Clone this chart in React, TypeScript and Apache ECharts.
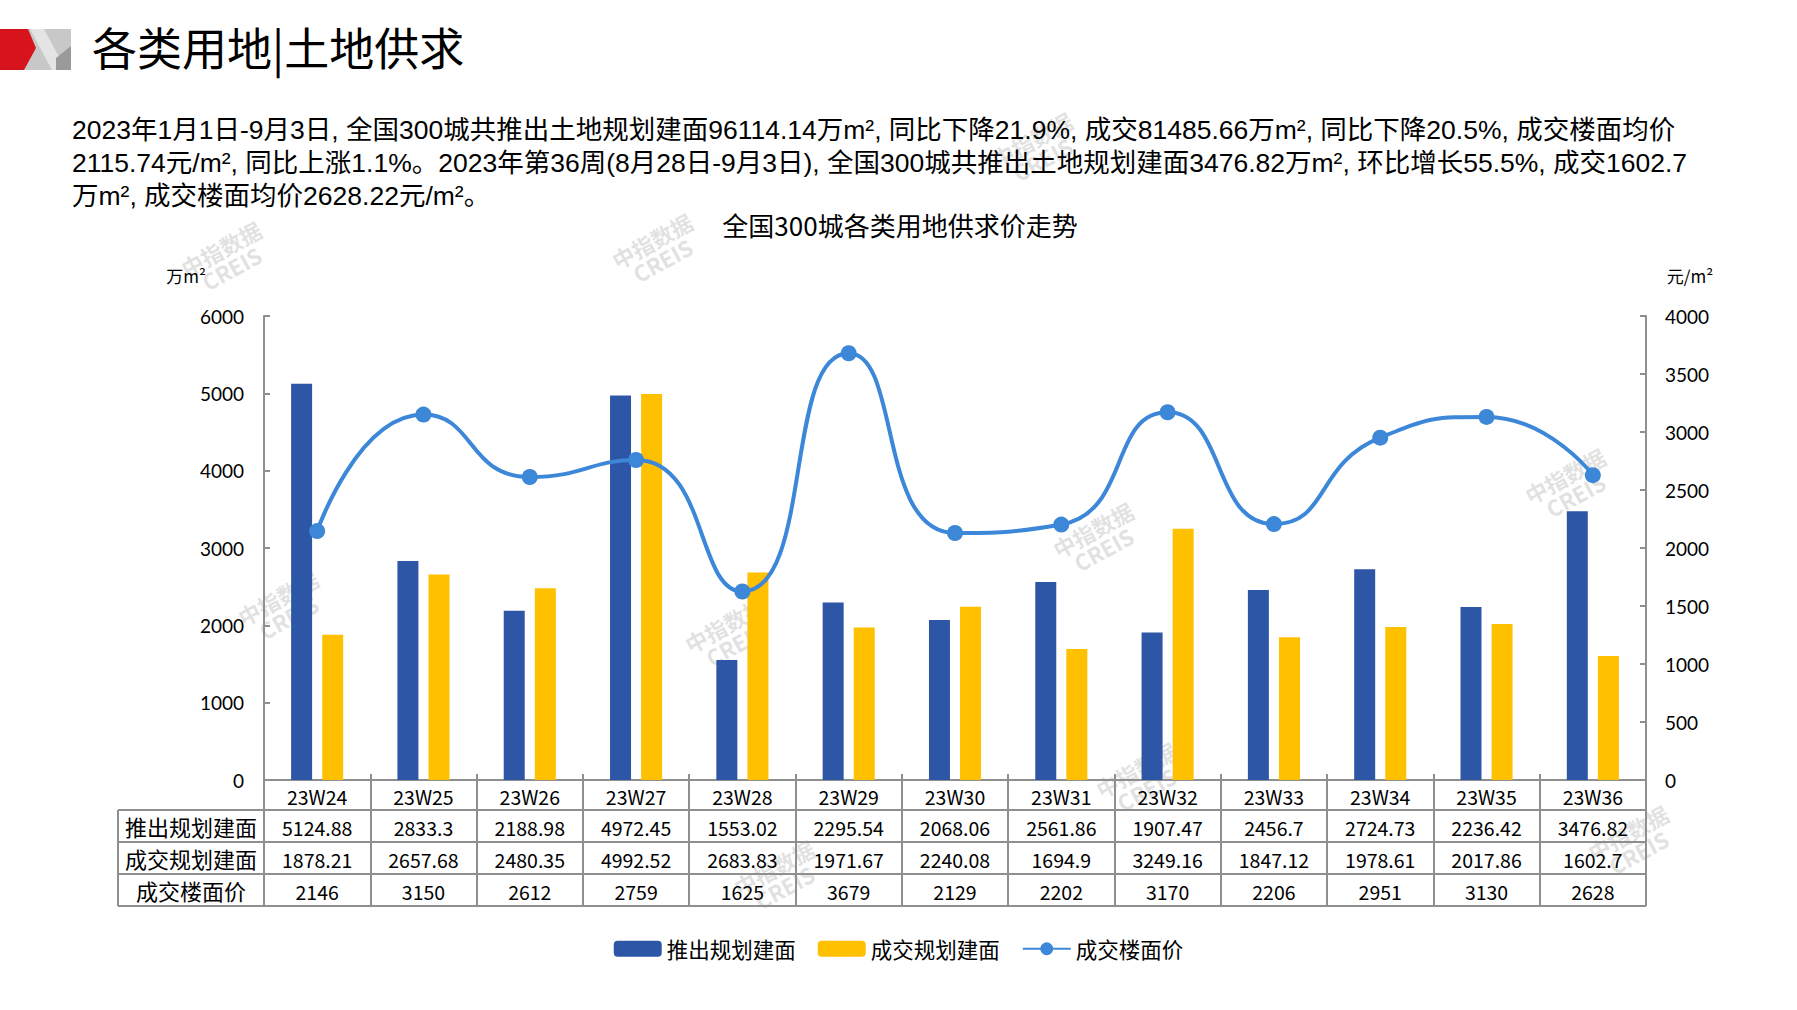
import React, { useEffect, useRef } from "react";
import * as echarts from "echarts";

const categories = ["23W24", "23W25", "23W26", "23W27", "23W28", "23W29", "23W30", "23W31", "23W32", "23W33", "23W34", "23W35", "23W36"];
const supplyArea = [5124.88, 2833.3, 2188.98, 4972.45, 1553.02, 2295.54, 2068.06, 2561.86, 1907.47, 2456.7, 2724.73, 2236.42, 3476.82];
const dealArea = [1878.21, 2657.68, 2480.35, 4992.52, 2683.83, 1971.67, 2240.08, 1694.9, 3249.16, 1847.12, 1978.61, 2017.86, 1602.7];
const dealPrice = [2146, 3150, 2612, 2759, 1625, 3679, 2129, 2202, 3170, 2206, 2951, 3130, 2628];
const seriesNames = ["推出规划建面", "成交规划建面", "成交楼面价"];

const leftAxis = { min: 0, max: 6000, interval: 1000, unit: "万m²" };
const rightAxis = { min: 0, max: 4000, interval: 500, unit: "元/m²" };

const headerTitle = "各类用地|土地供求";
const chartTitle = "全国300城各类用地供求价走势";
const paragraphLines = [
  "2023年1月1日-9月3日, 全国300城共推出土地规划建面96114.14万m², 同比下降21.9%, 成交81485.66万m², 同比下降20.5%, 成交楼面均价",
  "2115.74元/m², 同比上涨1.1%。2023年第36周(8月28日-9月3日), 全国300城共推出土地规划建面3476.82万m², 环比增长55.5%, 成交1602.7",
  "万m², 成交楼面均价2628.22元/m²。",
];
const watermarkSpots = [
  [226, 258], [657, 250], [1037, 149], [1098, 539], [283, 607],
  [730, 634], [1570, 485], [1141, 779], [779, 877], [1633, 842],
];

const BLUE = "#2E56A6";
const YELLOW = "#FFC000";
const LINE = "#3D87D8";
const GRAY = "#8f8f8f";
const FONT = "'Noto Sans CJK SC', sans-serif";
const PARAFONT = "'Liberation Sans', 'Noto Sans CJK SC', sans-serif";
const NUMFONT = "Lato, 'Noto Sans CJK SC', sans-serif";

const GRID_L = 264;
const GRID_R = 1646;
const GRID_T = 316;
const GRID_B = 780;
const ROW_Y = [780, 810, 842, 874, 906];
const TABLE_L = 118;

export default function App() {
  const ref = useRef<HTMLDivElement>(null);

  useEffect(() => {
    document.body.style.margin = "0";
    if (!ref.current) return;
    const chart = echarts.init(ref.current, null, { renderer: "svg" });

    const graphics: any[] = [];
    // logo
    graphics.push(
      { type: "polygon", shape: { points: [[26, 29], [71, 29], [71, 70], [22, 70], [34, 48]] }, style: { fill: "#c8c8c8" } },
      { type: "polygon", shape: { points: [[30, 29], [44, 29], [66, 70], [52, 70]] }, style: { fill: "#e4e4e4" } },
      { type: "polygon", shape: { points: [[71, 46], [71, 70], [56, 70], [56, 58]] }, style: { fill: "#9a9a9a" } },
      { type: "polygon", shape: { points: [[0, 29], [28, 29], [36, 48], [24, 70], [0, 70]] }, style: { fill: "#d7141b" } }
    );
    graphics.push({
      type: "text", left: 92, top: 24,
      style: { text: headerTitle, font: `45px ${FONT}`, fill: "#000" },
    });
    paragraphLines.forEach((t, i) => {
      graphics.push({
        type: "text", x: 72, y: [129.5, 162.8, 196][i],
        style: { text: t, font: `26.5px ${PARAFONT}`, fill: "#000", verticalAlign: "middle" },
      });
    });
    graphics.push({
      type: "text", x: 900, y: 224,
      style: { text: chartTitle, font: `26px ${FONT}`, fill: "#000", align: "center", verticalAlign: "middle" },
    });
    graphics.push({
      type: "text", x: 186, y: 275,
      style: { text: leftAxis.unit, font: `17px ${FONT}`, fill: "#000", align: "center", verticalAlign: "middle" },
    });
    graphics.push({
      type: "text", x: 1690, y: 275,
      style: { text: rightAxis.unit, font: `17px ${FONT}`, fill: "#000", align: "center", verticalAlign: "middle" },
    });
    // table horizontal lines
    ROW_Y.slice(1).forEach((y) => {
      graphics.push({
        type: "line", shape: { x1: TABLE_L, y1: y, x2: GRID_R, y2: y },
        style: { stroke: GRAY, lineWidth: 2 },
      });
    });
    graphics.push({
      type: "line", shape: { x1: TABLE_L, y1: ROW_Y[1], x2: TABLE_L, y2: ROW_Y[4] },
      style: { stroke: GRAY, lineWidth: 2 },
    });
    seriesNames.forEach((name, i) => {
      graphics.push({
        type: "text", x: (TABLE_L + GRID_L) / 2, y: (ROW_Y[i + 1] + ROW_Y[i + 2]) / 2,
        style: { text: name, font: `22px ${FONT}`, fill: "#000", align: "center", verticalAlign: "middle" },
      });
    });
    watermarkSpots.forEach(([x, y]) => {
      graphics.push({
        type: "text", x, y, rotation: 0.5, z: -10,
        style: {
          text: "中指数据\nCREIS", font: `bold 22px ${FONT}`, fill: "rgba(170,170,170,0.35)",
          align: "center", verticalAlign: "middle", lineHeight: 22,
        },
      });
    });

    const axisLabelStyle = { fontSize: 19, color: "#000", fontFamily: NUMFONT, formatter: (v: number) => String(v) };

    chart.setOption({
      animation: false,
      backgroundColor: "#fff",
      textStyle: { fontFamily: FONT },
      grid: { left: GRID_L, right: 1797 - GRID_R, top: GRID_T, bottom: 1010 - GRID_B, containLabel: false },
      legend: {
        data: seriesNames,
        left: "center",
        top: 933,
        itemWidth: 48,
        itemHeight: 16,
        itemGap: 22,
        textStyle: { fontSize: 21.5, color: "#000", fontFamily: FONT },
      },
      xAxis: [
        {
          type: "category",
          data: categories,
          position: "bottom",
          axisLine: { show: true, lineStyle: { color: GRAY, width: 2 } },
          axisTick: { show: true, inside: false, length: ROW_Y[4] - ROW_Y[0], interval: 0, lineStyle: { color: GRAY, width: 2 } },
          axisLabel: {
            interval: 0,
            margin: 1,
            formatter: (v: string, i: number) =>
              `{c|${v}}\n{v|${supplyArea[i]}}\n{v|${dealArea[i]}}\n{v|${dealPrice[i]}}`,
            rich: {
              c: { fontSize: 19.5, lineHeight: 30, color: "#000", fontFamily: FONT },
              v: { fontSize: 19.5, lineHeight: 32, color: "#000", fontFamily: FONT },
            },
          },
          splitLine: { show: false },
        },
        {
          type: "category",
          data: categories,
          position: "bottom",
          axisLine: { show: false },
          axisTick: { show: true, inside: true, length: 6, interval: 0, lineStyle: { color: GRAY, width: 2 } },
          axisLabel: { show: false },
          splitLine: { show: false },
        },
      ],
      yAxis: [
        {
          type: "value",
          min: leftAxis.min, max: leftAxis.max, interval: leftAxis.interval,
          axisLine: { show: true, lineStyle: { color: GRAY, width: 2 } },
          axisTick: { show: true, inside: true, length: 6, lineStyle: { color: GRAY, width: 2 } },
          axisLabel: { ...axisLabelStyle, margin: 20 },
          splitLine: { show: false },
        },
        {
          type: "value",
          position: "right",
          min: rightAxis.min, max: rightAxis.max, interval: rightAxis.interval,
          axisLine: { show: true, lineStyle: { color: GRAY, width: 2 } },
          axisTick: { show: true, inside: true, length: 6, lineStyle: { color: GRAY, width: 2 } },
          axisLabel: { ...axisLabelStyle, margin: 19 },
          splitLine: { show: false },
        },
      ],
      series: [
        {
          name: seriesNames[0], type: "bar", data: supplyArea, xAxisIndex: 0, yAxisIndex: 0,
          barWidth: 21, barGap: "48%", itemStyle: { color: BLUE },
        },
        {
          name: seriesNames[1], type: "bar", data: dealArea, xAxisIndex: 0, yAxisIndex: 0,
          barWidth: 21, barGap: "48%", itemStyle: { color: YELLOW },
        },
        {
          name: seriesNames[2], type: "line", data: dealPrice, xAxisIndex: 0, yAxisIndex: 1,
          smooth: 0.55, symbol: "circle", symbolSize: 16,
          lineStyle: { color: LINE, width: 4 }, itemStyle: { color: LINE },
        },
      ],
      graphic: graphics,
    });

    return () => chart.dispose();
  }, []);

  return <div ref={ref} style={{ width: 1797, height: 1010 }} />;
}
